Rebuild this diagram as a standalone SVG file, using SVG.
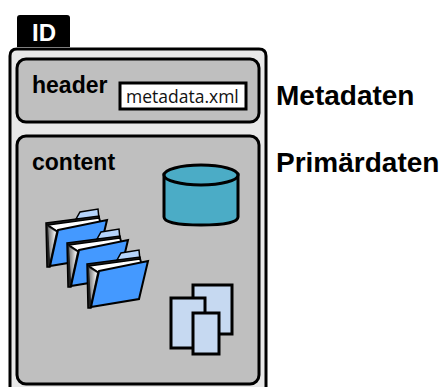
<svg xmlns="http://www.w3.org/2000/svg" width="441" height="387" viewBox="0 0 441 387">
<style>
text{font-family:"Liberation Sans",Arial,sans-serif;font-weight:700;fill:#000}
.box{fill:#bfbfbf;stroke:#000;stroke-width:3}
.doc{fill:#c6d9f1;stroke:#000;stroke-width:3}
.lbl{font-size:28px}
.in{font-size:23px}
.ftab{fill:#b5d4fb;stroke:#000;stroke-width:1.5}
.fpaper{fill:#fff;stroke:#000;stroke-width:1.5}
.ffront{fill:#4499ff;stroke:#000;stroke-width:2}
</style>
<defs>
<linearGradient id="g" x1="0" x2="1" y1="0" y2="0"><stop offset="0" stop-color="#777"/><stop offset="1" stop-color="#fff"/></linearGradient>
<g id="folder">
<path class="ftab" d="M30 9L34 2L52 -1L53 9Z"/>
<path d="M0 13L53 6L54 11L12 21L4 57L1 57Z" fill="#222" stroke="#000" stroke-width="1.5"/>
<path class="fpaper" d="M2 15L53 8L54 12L11 21Z"/>
<path d="M2 17L10 22L4 50Z" fill="url(#g)"/>
<path class="ffront" d="M12 20L61 10L52 48L4 56Z"/>
</g>
</defs>
<g id="id-tab">
<path d="M17 47V18Q17 15 20 15H67Q70 15 70 18V47Z" fill="#000"/>
<text x="32" y="41" font-size="24" style="fill:#fff">ID</text>
</g>
<g id="container">
<path d="M10 400V56Q10 49 17 49H259Q266 49 266 56V400Z" fill="#e8e8e8" stroke="#000" stroke-width="3"/>
</g>
<g id="header">
<rect class="box" x="17" y="59" width="242" height="63" rx="9"/>
<text class="in" x="32" y="93">header</text>
</g>
<g id="metadata">
<rect x="120" y="83" width="126" height="26" fill="#fff" stroke="#000" stroke-width="3"/>
<text x="126" y="103" style="font-family:'Open Sans','DejaVu Sans',sans-serif;font-weight:400;font-size:17.5px;fill:#111">metadata.xml</text>
</g>
<g id="content">
<rect class="box" x="17" y="136" width="242" height="248" rx="9"/>
<text class="in" x="32" y="170">content</text>
</g>
<g id="database">
<path d="M164 175V217C164 222 177 225 201 225C225 225 238 222 238 217V175Z" fill="#4bacc6" stroke="#000" stroke-width="3"/>
<ellipse cx="201" cy="175" rx="37" ry="10" fill="#4bacc6" stroke="#000" stroke-width="3"/>
</g>
<g id="folders">
<use href="#folder" x="46" y="210"/>
<use href="#folder" x="67" y="230"/>
<use href="#folder" x="87" y="251"/>
</g>
<g id="documents">
<rect class="doc" x="193" y="285" width="39" height="49"/>
<rect class="doc" x="171" y="298" width="34" height="50"/>
<rect class="doc" x="193" y="313" width="26" height="41"/>
</g>
<g id="labels">
<text class="lbl" x="276" y="105">Metadaten</text>
<text class="lbl" x="276" y="172">Primärdaten</text>
</g>
<g id="connectors"/>
</svg>
